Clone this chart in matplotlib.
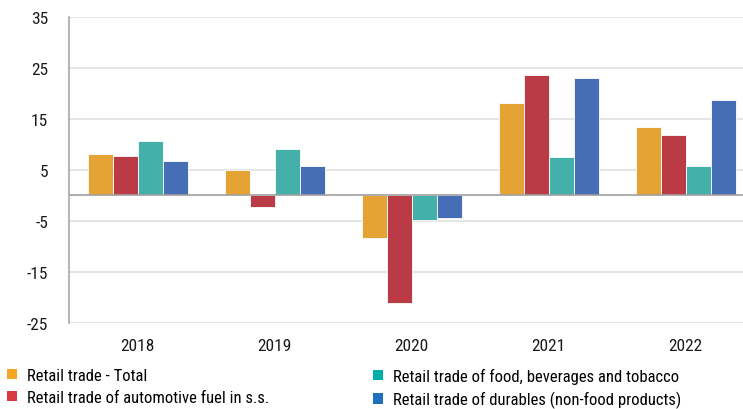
import numpy as np
import matplotlib
matplotlib.use("Agg")
import matplotlib.pyplot as plt
from matplotlib.patches import Patch

plt.rcParams['font.family'] = ['Roboto Condensed', 'DejaVu Sans']
plt.rcParams['axes.unicode_minus'] = False

years = ['2018', '2019', '2020', '2021', '2022']
series = ['Retail trade - Total',
          'Retail trade of automotive fuel in s.s.',
          'Retail trade of food, beverages and tobacco',
          'Retail trade of durables (non-food products)']
total = [8.2, 5.0, -8.3, 18.2, 13.5]
fuel = [7.8, -2.2, -21.0, 23.6, 11.9]
food = [10.6, 9.2, -4.9, 7.6, 5.8]
durables = [6.8, 5.8, -4.4, 23.1, 18.8]
yticks = [35, 25, 15, 5, -5, -15, -25]

bar_colors = ['#E5A335', '#BA3B46', '#43B0AA', '#456EB6']
key_colors = ['#F5A623', '#D9383F', '#00B0A8', '#1F6FC0']

fig = plt.figure(figsize=(7.43, 4.10), dpi=100)
ax = fig.add_axes([0.0929, 0.2098, 0.922, 0.7463])

x = np.arange(len(years))
w = 0.1825
for i, vals in enumerate([total, fuel, food, durables]):
    ax.bar(x + (i - 1.5) * w, vals, w, color=bar_colors[i],
           edgecolor='white', linewidth=0.6, zorder=3)

ax.set_ylim(-25, 35)
ax.set_xlim(-0.5, 4.5)
ax.set_yticks(yticks)
ax.set_xticks(x)
ax.set_xticklabels(years)
for v in yticks:
    ax.axhline(v, color='#E0E0E0', lw=1.2, zorder=1)
ax.axhline(0, color='#A0A0A0', lw=1.2, zorder=4)

for s in ['top', 'right', 'bottom']:
    ax.spines[s].set_visible(False)
ax.spines['left'].set_color('#A8A8A8')
ax.spines['left'].set_linewidth(1.2)
ax.tick_params(axis='both', length=0, labelsize=12.5, colors='#1A1A1A')
ax.tick_params(axis='y', pad=15)
ax.tick_params(axis='x', pad=11)

handles = [Patch(facecolor=c, edgecolor='none') for c in key_colors]
opts = dict(frameon=False, fontsize=12, handlelength=0.6, handleheight=0.6,
            handletextpad=0.6, labelspacing=0.4, borderpad=0, borderaxespad=0,
            loc='upper left')
fig.legend(handles[:2], series[:2], bbox_to_anchor=(7 / 743, 1 - 369 / 410), **opts)
fig.legend(handles[2:], series[2:], bbox_to_anchor=(373 / 743, 1 - 369 / 410), **opts)

fig.savefig('out.png', dpi=100)
